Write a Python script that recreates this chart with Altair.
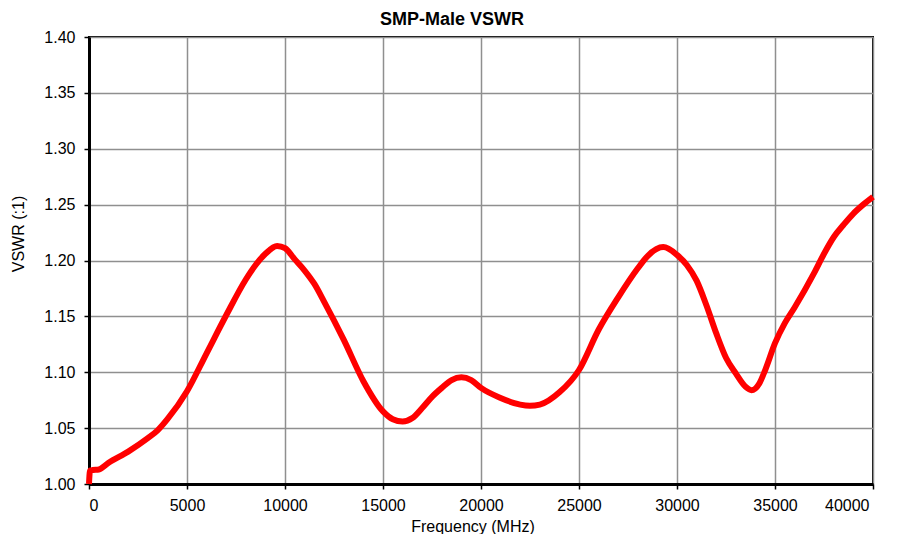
import altair as alt
import pandas as pd

freq = [0, 50, 200, 500, 1000, 2000, 3000, 3500, 4000, 5000, 6000, 7000, 8000, 8500,
        9000, 9600, 10000, 10500, 11000, 11500, 12000, 13000, 14000, 15000, 15500, 16000,
        16500, 17000, 17500, 18000, 18500, 19000, 19500, 20000, 21000, 22000, 22500,
        23000, 24000, 25000, 26000, 27000, 28000, 28500, 29300, 30000, 30500, 31000,
        31500, 32000, 32500, 33000, 33500, 33800, 34200, 34500, 35000, 35500, 36000,
        37000, 37500, 38000, 38500, 39000, 39500, 40000]
vswr = [1.000, 1.012, 1.0125, 1.013, 1.019, 1.029, 1.041, 1.048, 1.058, 1.083, 1.117,
        1.151, 1.183, 1.196, 1.206, 1.213, 1.211, 1.201, 1.191, 1.179, 1.163, 1.129, 1.092,
        1.065, 1.058, 1.056, 1.059, 1.068, 1.078, 1.086, 1.093, 1.0955, 1.093, 1.086,
        1.077, 1.071, 1.070, 1.071, 1.082, 1.102, 1.138, 1.167, 1.193, 1.204, 1.212,
        1.205, 1.196, 1.182, 1.160, 1.135, 1.113, 1.099, 1.087, 1.084, 1.090, 1.102,
        1.126, 1.144, 1.158, 1.189, 1.206, 1.221, 1.232, 1.242, 1.250, 1.257]

x_ticks = [0, 5000, 10000, 15000, 20000, 25000, 30000, 35000, 40000]
y_ticks = [1.00, 1.05, 1.10, 1.15, 1.20, 1.25, 1.30, 1.35, 1.40]

df = pd.DataFrame({"freq": freq, "vswr": vswr})

FONT = "Liberation Sans"

chart = alt.Chart(df).mark_line(
    color="#FF0000", strokeWidth=6, interpolate="monotone", strokeJoin="round"
).encode(
    x=alt.X("freq:Q",
            scale=alt.Scale(domain=[0, 40000], nice=False, zero=False),
            axis=alt.Axis(values=x_ticks, format="d", title="Frequency (MHz)",
                          titleX=383.5, titleY=47, titleBaseline="alphabetic",
                          titleAnchor="start", titleAlign="center",
                          labelOffset={"condition": {"test": "datum.value == 40000", "value": -4}, "value": 0},
                          labelPadding=8, tickSize=5)),
    y=alt.Y("vswr:Q",
            scale=alt.Scale(domain=[1.0, 1.4], nice=False, zero=False),
            axis=alt.Axis(values=y_ticks, format=".2f", title="VSWR (:1)",
                          titleX=-66, titleY=196.5, titleAngle=270,
                          titleBaseline="alphabetic", titleAlign="center",
                          labelPadding=9, tickSize=5)),
).properties(
    width=784,
    height=447,
    autosize=alt.AutoSizeParams(type="none"),
    padding={"left": 81, "top": 29, "right": 18, "bottom": 50},
    title=alt.TitleParams("SMP-Male VSWR", anchor="middle", frame="group",
                          dx=-29, offset=0,
                          fontSize=18, fontWeight="bold", font=FONT, color="black"),
).configure_view(
    stroke="black", strokeWidth=2
).configure_axis(
    labelFont=FONT, labelFontSize=16, labelColor="black",
    titleFont=FONT, titleFontSize=16, titleColor="black", titleFontWeight="normal",
    domainColor="black", domainWidth=3,
    tickColor="black", tickWidth=1.5,
    gridColor="#8f8f8f", gridWidth=1.5,
)

chart.save("out.html", embed_options={"renderer": "svg", "actions": False})
